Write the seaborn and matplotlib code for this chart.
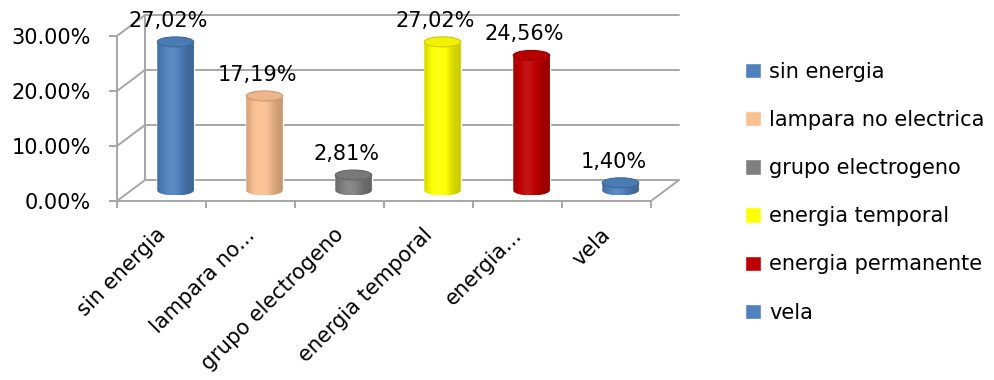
import numpy as np
import matplotlib
matplotlib.use("Agg")
import matplotlib.pyplot as plt
import matplotlib.transforms as mtransforms
from matplotlib.patches import Ellipse, ConnectionPatch, PathPatch
from matplotlib.path import Path
import matplotlib.colors as mcolors
import seaborn as sns

# data
categories = ["sin energia", "lampara no electrica", "grupo electrogeno",
              "energia temporal", "energia permanente", "vela"]
tick_labels = ["sin energia", "lampara no...", "grupo electrogeno",
               "energia temporal", "energia...", "vela"]
shares = [0.2702, 0.1719, 0.0281, 0.2702, 0.2456, 0.0140]
y_ticks = [0.0, 0.10, 0.20, 0.30]
bar_colors = ["#4f81bd", "#fac090", "#7f7f7f", "#ffff00", "#c00000", "#4f81bd"]

sns.set_style("white")
plt.rcParams["font.family"] = ["DejaVu Sans"]
plt.rcParams["text.color"] = "black"

W, H = 995, 380
GRID = "#a6a6a6"
LW = 1.4
FS = 15
fig = plt.figure(figsize=(W / 100, H / 100), dpi=100)


def px_rect(left, y0, width=534, height=165, below=0):
    # left / zero-line position in image pixels -> figure fraction
    return [left / W, (H - y0 - below) / H, width / W, (height + below) / H]


# three planes: back wall, front face, and the mid plane holding the bars
back = fig.add_axes(px_rect(145, 180), zorder=0)
front = fig.add_axes(px_rect(117, 201), zorder=1)
ext = 0.02 / 0.30 * 165  # extra room below zero for the rounded bar bottoms
mid = fig.add_axes(px_rect(131, 190.5, below=ext), zorder=2)

for ax in (back, front):
    ax.set_xlim(-0.5, len(categories) - 0.5)
    ax.set_ylim(0, 0.30)
    ax.set_facecolor("none")
    for s in ax.spines.values():
        s.set_visible(False)

# back wall grid
back.set_xticks([])
back.set_yticks([])
for y in y_ticks:
    back.axhline(y, color=GRID, lw=LW, clip_on=False)
back.spines["left"].set_visible(True)
back.spines["left"].set_color(GRID)
back.spines["left"].set_linewidth(LW)

# front face axes with ticks
front.spines["left"].set_visible(True)
front.spines["bottom"].set_visible(True)
for side in ("left", "bottom"):
    front.spines[side].set_color(GRID)
    front.spines[side].set_linewidth(LW)
front.set_yticks(y_ticks)
front.set_yticklabels([f"{v * 100:.2f}%" for v in y_ticks])
front.tick_params(axis="y", length=5.8, width=LW, color=GRID, direction="out",
                  pad=13, labelsize=FS, labelcolor="black", left=True)
front.set_xticks(np.arange(len(categories)))
front.set_xticklabels(tick_labels, rotation=45, ha="right", va="top",
                      rotation_mode="anchor")
front.set_xticks(np.arange(len(categories) + 1) - 0.5, minor=True)
front.tick_params(axis="x", which="major", length=0, pad=17, labelsize=FS,
                  labelcolor="black", bottom=True)
front.tick_params(axis="x", which="minor", length=5, width=LW, color=GRID,
                  direction="out", bottom=True)
shift = mtransforms.ScaledTranslation(-6 / 100, 0, fig.dpi_scale_trans)
for lab in front.get_xticklabels():
    lab.set_transform(lab.get_transform() + shift)

# left wall diagonals and right floor edge
for y in y_ticks:
    fig.add_artist(ConnectionPatch((-0.5, y), (-0.5, y), coordsA=front.transData,
                                   coordsB=back.transData, color=GRID, lw=LW))
fig.add_artist(ConnectionPatch((5.5, 0), (5.5, 0), coordsA=front.transData,
                               coordsB=back.transData, color=GRID, lw=LW))

# bars
sns.barplot(x=categories, y=shares, hue=categories, palette=bar_colors,
            saturation=1, width=0.41, ax=mid, legend=True)
mid.set_xlim(-0.5, len(categories) - 0.5)
mid.set_ylim(-0.02, 0.30)
mid.set_facecolor("none")
mid.axis("off")

eh = 10 / 165 * 0.30  # ellipse height in data units
t = np.linspace(0, 1, 120)
k = 0.78 + 0.30 * np.exp(-((t - 0.4) / 0.33) ** 2)

for cont in mid.containers:
    for p in cont.patches:
        x0, w, h = p.get_x(), p.get_width(), p.get_height()
        cx = x0 + w / 2
        base = np.array(mcolors.to_rgb(p.get_facecolor()))
        img = base[None, :] * np.minimum(k, 1)[:, None] + \
            (1 - base[None, :]) * np.maximum(k - 1, 0)[:, None]
        img = np.clip(img, 0, 1)[None, :, :]
        # body outline: rect plus rounded bottom
        ang = np.linspace(np.pi, 2 * np.pi, 40)
        verts = [(cx + w / 2 * np.cos(a), eh / 2 * np.sin(a)) for a in ang]
        verts += [(cx + w / 2, h), (cx - w / 2, h), verts[0]]
        body = PathPatch(Path(verts, closed=True), transform=mid.transData,
                         facecolor="none", edgecolor="none")
        mid.add_patch(body)
        im = mid.imshow(img, extent=(x0, x0 + w, -eh / 2, h), aspect="auto",
                        interpolation="bicubic", zorder=2.5)
        im.set_clip_path(body)
        top_face = np.clip(base * 0.95, 0, 1)
        mid.add_patch(Ellipse((cx, h), w, eh, facecolor=top_face,
                              edgecolor=np.clip(base * 0.8, 0, 1), lw=0.8,
                              zorder=2.6))
        ann = mid.bar_label(cont, labels=[f"{h * 100:.2f}%".replace(".", ",")],
                            padding=8, fontsize=FS, color="black")
        for a in ann:
            a.xyann = (-5, 8)
            a.set_zorder(4)
        break

mid.set_xlim(-0.5, len(categories) - 0.5)
mid.set_ylim(-0.02, 0.30)

sns.move_legend(mid, "upper left", bbox_to_anchor=(745 / W, 1 - 62 / H),
                bbox_transform=fig.transFigure, frameon=False, fontsize=FS,
                handlelength=0.75, handleheight=0.75, handletextpad=0.4,
                labelspacing=1.35, borderpad=0, borderaxespad=0, title=None)
for txt in mid.get_legend().get_texts():
    txt.set_color("black")

fig.savefig("out.png", dpi=100)
